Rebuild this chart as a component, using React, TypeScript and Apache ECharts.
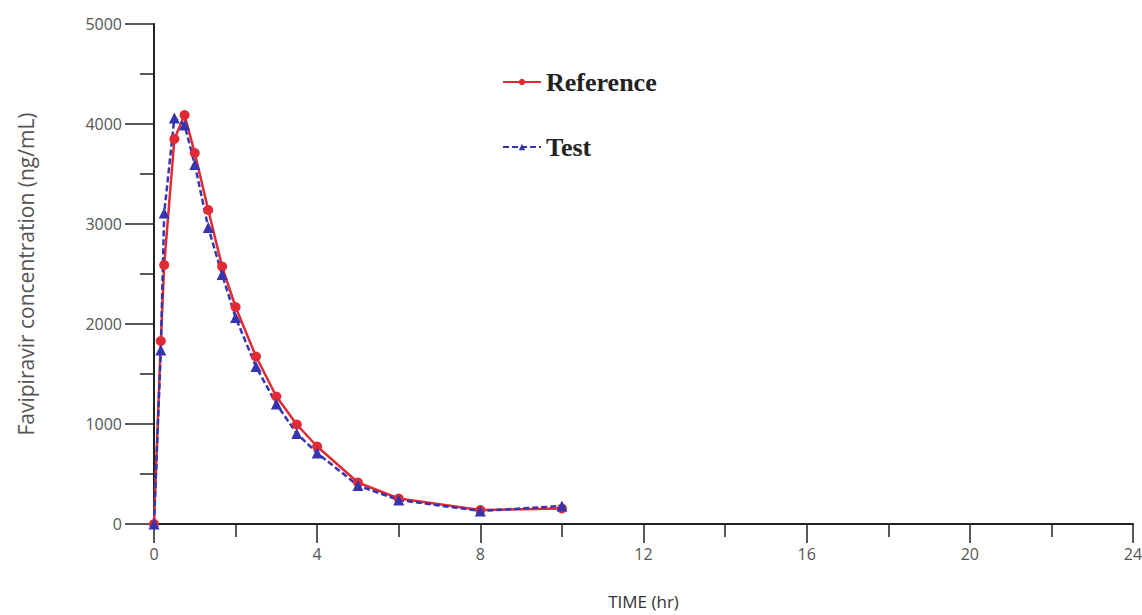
import React, { useEffect, useRef } from "react";
import * as echarts from "echarts";

const times = [0, 0.167, 0.25, 0.5, 0.75, 1, 1.33, 1.67, 2, 2.5, 3, 3.5, 4, 5, 6, 8, 10];
const referenceValues = [0, 1830, 2590, 3850, 4090, 3710, 3140, 2575, 2170, 1675, 1275, 995, 775, 415, 255, 140, 155];
const testValues = [0, 1740, 3110, 4060, 3990, 3595, 2965, 2495, 2065, 1575, 1200, 905, 710, 385, 240, 130, 180];
const xTicks = [0, 4, 8, 12, 16, 20, 24];
const yTicks = [0, 1000, 2000, 3000, 4000, 5000];

export default function App() {
  const ref = useRef<HTMLDivElement>(null);
  useEffect(() => {
    if (!ref.current) return;
    const chart = echarts.init(ref.current, undefined, { renderer: "svg" });
    const axisColor = "#222";
    const labelColor = "#555";
    chart.setOption({
      animation: false,
      backgroundColor: "#fff",
      grid: { left: 154, right: 9, top: 24, bottom: 91, containLabel: false, outerBoundsMode: "none" },
      legend: {
        orient: "vertical",
        left: 497,
        top: 62,
        itemWidth: 38,
        itemHeight: 8,
        itemGap: 35,
        data: ["Reference", "Test"],
        textStyle: {
          fontFamily: "Liberation Serif",
          fontWeight: "bold",
          fontSize: 26,
          color: "#222",
          lineHeight: 30,
        },
      },
      xAxis: {
        type: "value",
        min: xTicks[0],
        max: xTicks[xTicks.length - 1],
        interval: 4,
        name: "TIME (hr)",
        nameLocation: "middle",
        nameGap: 69,
        nameTextStyle: { fontFamily: "Open Sans", fontSize: 17, color: "#333" },
        axisLine: { show: true, onZero: false, lineStyle: { color: axisColor, width: 2 } },
        axisTick: { show: true, length: 19, lineStyle: { color: axisColor, width: 1.5 } },
        minorTick: { show: true, splitNumber: 2, length: 13, lineStyle: { color: axisColor, width: 1.5 } },
        axisLabel: { margin: 22, fontFamily: "Open Sans", fontSize: 16, color: labelColor, formatter: (v: number) => String(v) },
        splitLine: { show: false },
      },
      yAxis: {
        type: "value",
        min: yTicks[0],
        max: yTicks[yTicks.length - 1],
        interval: 1000,
        name: "Favipiravir concentration (ng/mL)",
        nameLocation: "middle",
        nameGap: 118,
        nameTextStyle: { fontFamily: "Open Sans", fontSize: 21, color: "#555" },
        axisLine: { show: true, onZero: false, lineStyle: { color: axisColor, width: 2 } },
        axisTick: { show: true, length: 29, lineStyle: { color: axisColor, width: 1.5 } },
        minorTick: { show: true, splitNumber: 2, length: 14, lineStyle: { color: axisColor, width: 1.5 } },
        axisLabel: { margin: 32, fontFamily: "Open Sans", fontSize: 16, color: labelColor, formatter: (v: number) => String(v) },
        splitLine: { show: false },
      },
      series: [
        {
          name: "Reference",
          type: "line",
          data: times.map((t, i) => [t, referenceValues[i]]),
          symbol: "circle",
          symbolSize: 10,
          itemStyle: { color: "#e02b35" },
          lineStyle: { color: "#e02b35", width: 2.5 },
        },
        {
          name: "Test",
          type: "line",
          data: times.map((t, i) => [t, testValues[i]]),
          symbol: "triangle",
          symbolSize: 11,
          itemStyle: { color: "#3535b0" },
          lineStyle: { color: "#3535b0", width: 2.5, type: [6, 3] },
        },
      ],
    });
    return () => chart.dispose();
  }, []);
  return <div ref={ref} style={{ width: 1142, height: 615, position: "fixed", left: 0, top: 0 }} />;
}
